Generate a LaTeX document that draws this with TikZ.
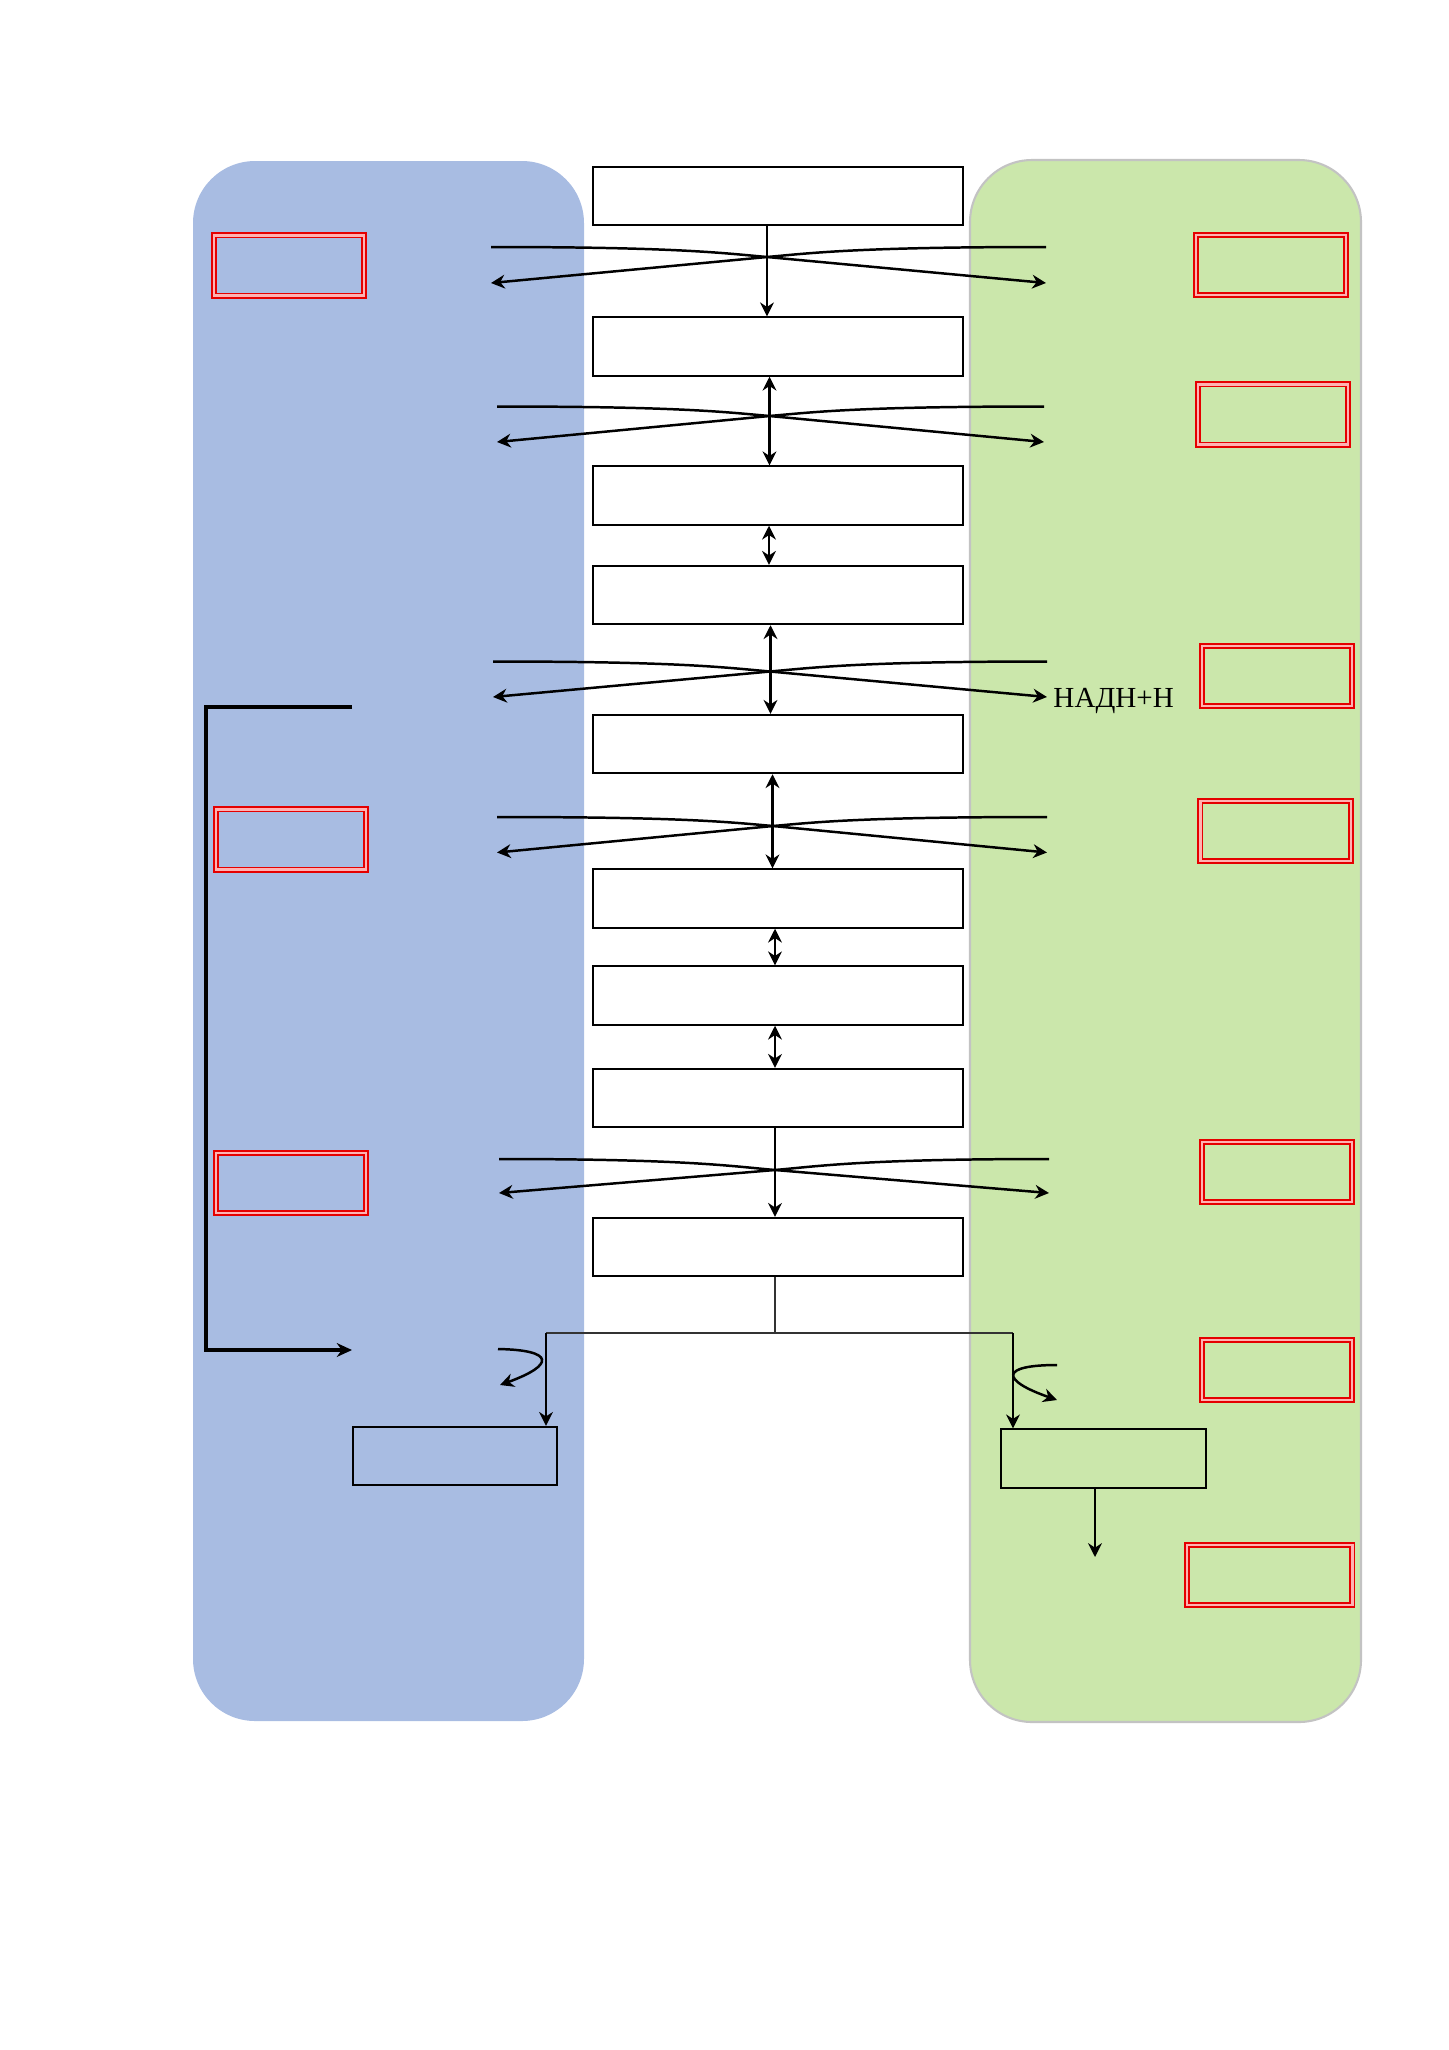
\documentclass[tikz,border=0pt]{standalone}
\usepackage{fontspec}
\setmainfont{Liberation Serif}
\usetikzlibrary{arrows.meta}
\definecolor{zoneblue}{RGB}{168,188,226}
\definecolor{zonegreen}{RGB}{203,231,171}
\definecolor{zoneedge}{RGB}{195,195,195}

\begin{document}
\begin{tikzpicture}[
    x=0.14493mm, y=-0.14493mm,
    every node/.style={
    font=\fontsize{12}{14}\selectfont},
    stage/.style={draw, line width=0.26mm, minimum width=53.6mm, minimum height=8.5mm, inner sep=0},
    product/.style={draw, line width=0.26mm, minimum width=29.6mm, minimum height=8.5mm, inner sep=0},
    redbox/.style={draw=red!90!black, line width=0.25mm, double=red!30, double distance=0.35mm,
        minimum width=21.8mm, minimum height=8.75mm, inner sep=0},
    flow/.style={line width=0.36mm, -{Stealth[length=2mm, width=2mm]}},
    both/.style={flow, {Stealth[length=2mm, width=2mm]}-{Stealth[length=2mm, width=2mm]}},
    link/.style={line width=0.17mm, black!80},
    bracket/.style={line width=0.45mm, -{Stealth[length=2.2mm, width=2mm]}}]

    \useasboundingbox (0,0) rectangle (1449,2050);

    \fill[zoneblue, rounded corners=9mm] (193,161) rectangle (584,1721);
    \filldraw[fill=zonegreen, draw=zoneedge, line width=0.3mm, rounded corners=9mm] (970,160) rectangle (1361,1722);

    \foreach \n/\y in {1/196,2/346.5,3/495.5,4/595,5/744,6/898.5,7/995.5,8/1098,9/1247}
        \node[stage] (b\n) at (778,\y) {};

    \node[product] (bl) at (455,1456) {};
    \node[product] (br) at (1103.5,1458.5) {};

    \foreach \n/\x/\y in {l1/289/265.5, l2/291/839.5, l3/291/1183,
        r1/1271/265, r2/1273/414.5, r3/1277/676, r4/1275.5/831, r5/1277/1172, r6/1277/1370}
        \node[redbox] (\n) at (\x,\y) {};
    \node[redbox, minimum width=24mm] (r7) at (1269.5,1575) {};

    \foreach \n/\l/\r/\ya/\yb/\cx/\cy in {1/491/1046/247/283/767/257,
        2/497/1044/406.5/442/769.5/416, 3/493/1047/661.5/697/770/671.5,
        4/497/1047/817/852.5/773/826, 5/499/1049/1159/1193/775/1170} {
        \coordinate (sl\n) at (\l,\ya);
        \coordinate (sr\n) at (\r,\ya);
        \coordinate (el\n) at (\l,\yb);
        \coordinate (er\n) at (\r,\yb);
        \coordinate (m\n) at (\cx,\cy);
        \draw[flow] (sl\n) .. controls (\cx-90,\ya) and (\cx-45,\cy-4) .. (m\n) -- (er\n);
        \draw[flow] (sr\n) .. controls (\cx+90,\ya) and (\cx+45,\cy-4) .. (m\n) -- (el\n);
    }

    \node[anchor=base west, inner sep=0] (nadh) at (1053,707) {НАДН+Н};

    \foreach \a/\b/\x/\tip in {1/2/767/flow, 2/3/769.5/both, 3/4/769/both, 4/5/770.5/both,
        5/6/772.5/both, 6/7/775/both, 7/8/775/both, 8/9/775/flow}
        \draw[\tip] (\x,0 |- b\a.south) -- (\x,0 |- b\b.north);

    \coordinate (split) at (775,1333);
    \coordinate (jl) at (546,1333);
    \coordinate (jr) at (1013,1333);
    \draw[link] (775,0 |- b9.south) -- (split);
    \draw[link] (jl) -- (jr);
    \draw[flow] (jl) -- (jl |- bl.north);
    \draw[flow] (jr) -- (jr |- br.north);

    \coordinate (cl) at (498,1349);
    \coordinate (cle) at (500,1385);
    \draw[flow] (cl) .. controls (555,1350) and (555,1365) .. (cle);
    \coordinate (cr) at (1057,1365);
    \coordinate (cre) at (1057,1400);
    \draw[flow] (cr) .. controls (1000,1365) and (1000,1380) .. (cre);

    \coordinate (drop) at (1095,1557);
    \draw[flow] (1095,0 |- br.south) -- (drop);

    \coordinate (bt) at (352,707);
    \coordinate (bb) at (352,1350);
    \draw[bracket] (bt) -- (206,707) |- (bb);
\end{tikzpicture}
\end{document}
